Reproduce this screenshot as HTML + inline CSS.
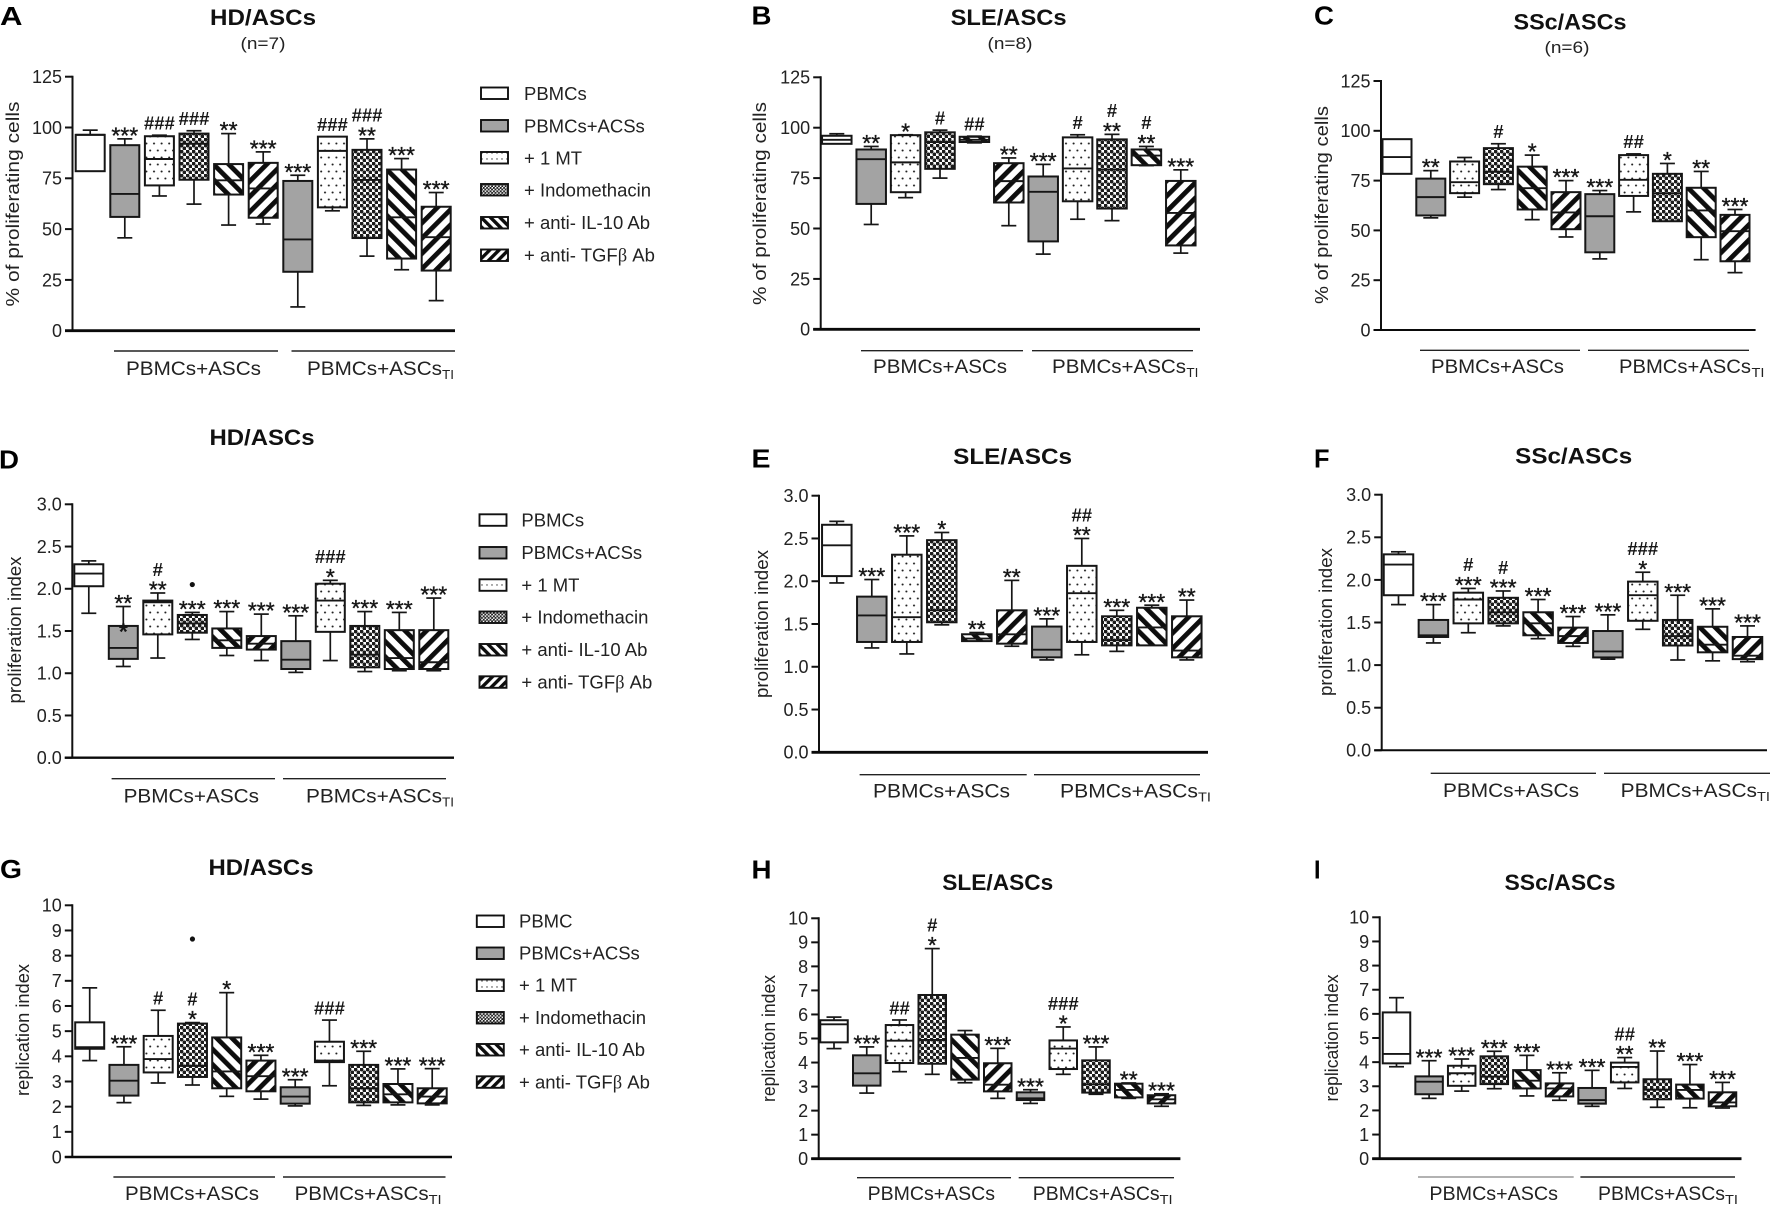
<!DOCTYPE html>
<html lang="en">
<head>
<meta charset="utf-8">
<title>Proliferation of PBMCs with ASCs</title>
<style>
html,body{margin:0;padding:0;background:#fff;}
svg{display:block;}
text{font-family:"Liberation Sans",Arial,sans-serif;fill:#161616;}
.letter{font-size:25.5px;font-weight:bold;fill:#000;}
.title{font-size:22px;font-weight:bold;text-anchor:middle;fill:#111;}
.n{font-size:17px;text-anchor:middle;fill:#222;}
.ytitle{font-size:18px;text-anchor:middle;fill:#222;}
.tick{font-size:18px;text-anchor:end;fill:#222;}
.group{font-size:19px;fill:#222;}
.sub{font-size:13px;fill:#222;}
.legend{font-size:18.5px;fill:#222;}
.legend tspan{font-family:"Liberation Serif",serif;}
.bracket{stroke:#222;stroke-width:1.4;}
.swatch{stroke:#111;stroke-width:1.9;}
</style>
</head>
<body>
<svg id="figure" xmlns="http://www.w3.org/2000/svg" width="1772" height="1208" viewBox="0 0 1772 1208">
<defs>
<pattern id="p-dots" patternUnits="userSpaceOnUse" width="7.6" height="14">
<rect width="7.6" height="14" fill="#fff"/>
<circle cx="2" cy="3.5" r="1.05" fill="#222"/>
<circle cx="5.8" cy="10.5" r="1.05" fill="#222"/>
</pattern>
<pattern id="p-check" patternUnits="userSpaceOnUse" width="6" height="6">
<rect width="6" height="6" fill="#fff"/>
<circle cx="1.5" cy="1.5" r="1.95" fill="#1c1c1c"/>
<circle cx="4.5" cy="4.5" r="1.95" fill="#1c1c1c"/>
</pattern>
<pattern id="p-back" patternUnits="userSpaceOnUse" width="10.8" height="10.8" patternTransform="rotate(-45)">
<rect width="10.8" height="10.8" fill="#fff"/>
<rect width="4.8" height="10.8" fill="#0d0d0d"/>
</pattern>
<pattern id="p-fwd" patternUnits="userSpaceOnUse" width="10.8" height="10.8" patternTransform="rotate(45)">
<rect width="10.8" height="10.8" fill="#fff"/>
<rect width="4.8" height="10.8" fill="#0d0d0d"/>
</pattern>
<pattern id="s-dots" patternUnits="userSpaceOnUse" width="5" height="6">
<rect width="5" height="6" fill="#fff"/>
<circle cx="2" cy="3" r="0.7" fill="#333"/>
</pattern>
<pattern id="s-check" patternUnits="userSpaceOnUse" width="3.4" height="3.4">
<rect width="3.4" height="3.4" fill="#fff"/>
<circle cx="0.85" cy="0.85" r="1.1" fill="#222"/>
<circle cx="2.55" cy="2.55" r="1.1" fill="#222"/>
</pattern>
<pattern id="s-back" patternUnits="userSpaceOnUse" width="6.6" height="6.6" patternTransform="rotate(-45)">
<rect width="6.6" height="6.6" fill="#fff"/>
<rect width="3.4" height="6.6" fill="#0d0d0d"/>
</pattern>
<pattern id="s-fwd" patternUnits="userSpaceOnUse" width="6.6" height="6.6" patternTransform="rotate(45)">
<rect width="6.6" height="6.6" fill="#fff"/>
<rect width="3.4" height="6.6" fill="#0d0d0d"/>
</pattern>
</defs>
<rect width="1772" height="1208" fill="#fff"/>

<!-- Panel A -->
<g>
<text class="letter" x="0" y="25" textLength="22.5" lengthAdjust="spacingAndGlyphs">A</text>
<text class="title" x="263" y="25" textLength="106" lengthAdjust="spacingAndGlyphs">HD/ASCs</text>
<text class="n" x="263" y="49" textLength="45" lengthAdjust="spacingAndGlyphs">(n=7)</text>
<text class="ytitle" transform="translate(19,204) rotate(-90)" textLength="205" lengthAdjust="spacingAndGlyphs">% of proliferating cells</text>
<line class="bracket" x1="114" y1="351" x2="278" y2="351"/>
<line class="bracket" x1="291.5" y1="351" x2="455" y2="351"/>
<text class="group" x="126" y="375" textLength="135" lengthAdjust="spacingAndGlyphs">PBMCs+ASCs</text>
<text class="group" x="307" y="375" textLength="135" lengthAdjust="spacingAndGlyphs">PBMCs+ASCs</text>
<text class="sub" x="442" y="379" textLength="12" lengthAdjust="spacingAndGlyphs">TI</text>
<g id="plot-a"></g>
</g>

<!-- Legend A -->
<g>
<g><rect class="swatch" x="481" y="87.5" width="27" height="11.5" fill="#fff"/><text class="legend" x="524" y="100">PBMCs</text></g>
<g><rect class="swatch" x="481" y="120" width="27" height="11.5" fill="#a3a3a3"/><text class="legend" x="524" y="132.3">PBMCs+ACSs</text></g>
<g><rect class="swatch" x="481" y="152" width="27" height="11.5" fill="url(#s-dots)"/><text class="legend" x="524" y="164.3">+ 1 MT</text></g>
<g><rect class="swatch" x="481" y="184" width="27" height="11.5" fill="url(#s-check)"/><text class="legend" x="524" y="196.3">+ Indomethacin</text></g>
<g><rect class="swatch" x="481" y="217" width="27" height="11.5" fill="url(#s-back)"/><text class="legend" x="524" y="229">+ anti- IL-10 Ab</text></g>
<g><rect class="swatch" x="481" y="249.5" width="27" height="11.5" fill="url(#s-fwd)"/><text class="legend" x="524" y="261.5">+ anti- TGF<tspan>β</tspan> Ab</text></g>
</g>

<!-- Panel B -->
<g>
<text class="letter" x="751.5" y="24.5" textLength="20" lengthAdjust="spacingAndGlyphs">B</text>
<text class="title" x="1008.6" y="25" textLength="116" lengthAdjust="spacingAndGlyphs">SLE/ASCs</text>
<text class="n" x="1010" y="49" textLength="45" lengthAdjust="spacingAndGlyphs">(n=8)</text>
<text class="ytitle" transform="translate(766,203.5) rotate(-90)" textLength="203" lengthAdjust="spacingAndGlyphs">% of proliferating cells</text>
<line class="bracket" x1="861" y1="350.7" x2="1023" y2="350.7"/>
<line class="bracket" x1="1032" y1="350.7" x2="1193" y2="350.7"/>
<text class="group" x="873" y="373" textLength="134" lengthAdjust="spacingAndGlyphs">PBMCs+ASCs</text>
<text class="group" x="1052" y="373" textLength="134" lengthAdjust="spacingAndGlyphs">PBMCs+ASCs</text>
<text class="sub" x="1186.4" y="377" textLength="12" lengthAdjust="spacingAndGlyphs">TI</text>
<g id="plot-b"></g>
</g>

<!-- Panel C -->
<g>
<text class="letter" x="1314" y="24.5" textLength="20" lengthAdjust="spacingAndGlyphs">C</text>
<text class="title" x="1570" y="29.5" textLength="113" lengthAdjust="spacingAndGlyphs">SSc/ASCs</text>
<text class="n" x="1567" y="53" textLength="45" lengthAdjust="spacingAndGlyphs">(n=6)</text>
<text class="ytitle" transform="translate(1328,205) rotate(-90)" textLength="198" lengthAdjust="spacingAndGlyphs">% of proliferating cells</text>
<line class="bracket" x1="1420" y1="350.3" x2="1580" y2="350.3"/>
<line class="bracket" x1="1588" y1="350.3" x2="1749" y2="350.3"/>
<text class="group" x="1431" y="373" textLength="133" lengthAdjust="spacingAndGlyphs">PBMCs+ASCs</text>
<text class="group" x="1619" y="373" textLength="132" lengthAdjust="spacingAndGlyphs">PBMCs+ASCs</text>
<text class="sub" x="1751.5" y="377" textLength="13" lengthAdjust="spacingAndGlyphs">TI</text>
<g id="plot-c"></g>
</g>

<!-- Panel D -->
<g>
<text class="letter" x="-1" y="468.5" textLength="20" lengthAdjust="spacingAndGlyphs">D</text>
<text class="title" x="262" y="445" textLength="105" lengthAdjust="spacingAndGlyphs">HD/ASCs</text>
<text class="ytitle" transform="translate(21,630) rotate(-90)" textLength="147" lengthAdjust="spacingAndGlyphs">proliferation index</text>
<line class="bracket" x1="111.6" y1="778.7" x2="275" y2="778.7"/>
<line class="bracket" x1="283" y1="778.7" x2="446" y2="778.7"/>
<text class="group" x="123.6" y="802.7" textLength="135.4" lengthAdjust="spacingAndGlyphs">PBMCs+ASCs</text>
<text class="group" x="306" y="802.7" textLength="136" lengthAdjust="spacingAndGlyphs">PBMCs+ASCs</text>
<text class="sub" x="442" y="806.7" textLength="12" lengthAdjust="spacingAndGlyphs">TI</text>
<g id="plot-d"></g>
</g>

<!-- Legend D -->
<g>
<g><rect class="swatch" x="479.5" y="514.3" width="27" height="11.5" fill="#fff"/><text class="legend" x="521.4" y="526.3">PBMCs</text></g>
<g><rect class="swatch" x="479.5" y="547" width="27" height="11.5" fill="#a3a3a3"/><text class="legend" x="521.4" y="559">PBMCs+ACSs</text></g>
<g><rect class="swatch" x="479.5" y="579.3" width="27" height="11.5" fill="url(#s-dots)"/><text class="legend" x="521.4" y="591.3">+ 1 MT</text></g>
<g><rect class="swatch" x="479.5" y="611.5" width="27" height="11.5" fill="url(#s-check)"/><text class="legend" x="521.4" y="623.5">+ Indomethacin</text></g>
<g><rect class="swatch" x="479.5" y="644" width="27" height="11.5" fill="url(#s-back)"/><text class="legend" x="521.4" y="656">+ anti- IL-10 Ab</text></g>
<g><rect class="swatch" x="479.5" y="676.3" width="27" height="11.5" fill="url(#s-fwd)"/><text class="legend" x="521.4" y="688.3">+ anti- TGF<tspan>β</tspan> Ab</text></g>
</g>

<!-- Panel E -->
<g>
<text class="letter" x="751.5" y="467.5" textLength="19" lengthAdjust="spacingAndGlyphs">E</text>
<text class="title" x="1012.6" y="464" textLength="119" lengthAdjust="spacingAndGlyphs">SLE/ASCs</text>
<text class="ytitle" transform="translate(768,624) rotate(-90)" textLength="148" lengthAdjust="spacingAndGlyphs">proliferation index</text>
<line class="bracket" x1="859.6" y1="774.7" x2="1026.7" y2="774.7"/>
<line class="bracket" x1="1034" y1="774.7" x2="1200" y2="774.7"/>
<text class="group" x="873" y="797.7" textLength="137" lengthAdjust="spacingAndGlyphs">PBMCs+ASCs</text>
<text class="group" x="1060" y="797.7" textLength="138" lengthAdjust="spacingAndGlyphs">PBMCs+ASCs</text>
<text class="sub" x="1198" y="801.7" textLength="13" lengthAdjust="spacingAndGlyphs">TI</text>
<g id="plot-e"></g>
</g>

<!-- Panel F -->
<g>
<text class="letter" x="1314" y="467.5" textLength="15.5" lengthAdjust="spacingAndGlyphs">F</text>
<text class="title" x="1573.7" y="463.3" textLength="117" lengthAdjust="spacingAndGlyphs">SSc/ASCs</text>
<text class="ytitle" transform="translate(1332,622) rotate(-90)" textLength="148" lengthAdjust="spacingAndGlyphs">proliferation index</text>
<line class="bracket" x1="1430.7" y1="773.3" x2="1596" y2="773.3"/>
<line class="bracket" x1="1604" y1="773.3" x2="1770" y2="773.3"/>
<text class="group" x="1443" y="797" textLength="136" lengthAdjust="spacingAndGlyphs">PBMCs+ASCs</text>
<text class="group" x="1620.7" y="797" textLength="136.3" lengthAdjust="spacingAndGlyphs">PBMCs+ASCs</text>
<text class="sub" x="1757" y="801" textLength="13" lengthAdjust="spacingAndGlyphs">TI</text>
<g id="plot-f"></g>
</g>

<!-- Panel G -->
<g>
<text class="letter" x="0" y="878" textLength="22" lengthAdjust="spacingAndGlyphs">G</text>
<text class="title" x="261" y="875" textLength="105" lengthAdjust="spacingAndGlyphs">HD/ASCs</text>
<text class="ytitle" transform="translate(29,1030) rotate(-90)" textLength="132" lengthAdjust="spacingAndGlyphs">replication index</text>
<line class="bracket" x1="113.4" y1="1177" x2="275" y2="1177"/>
<line class="bracket" x1="283" y1="1177" x2="445.5" y2="1177"/>
<text class="group" x="125" y="1200" textLength="134" lengthAdjust="spacingAndGlyphs">PBMCs+ASCs</text>
<text class="group" x="294.6" y="1200" textLength="134" lengthAdjust="spacingAndGlyphs">PBMCs+ASCs</text>
<text class="sub" x="428.6" y="1204" textLength="13" lengthAdjust="spacingAndGlyphs">TI</text>
<g id="plot-g"></g>
</g>

<!-- Legend G -->
<g>
<g><rect class="swatch" x="476.8" y="915.5" width="27" height="11.5" fill="#fff"/><text class="legend" x="519" y="927.5">PBMC</text></g>
<g><rect class="swatch" x="476.8" y="947.5" width="27" height="11.5" fill="#a3a3a3"/><text class="legend" x="519" y="959.5">PBMCs+ACSs</text></g>
<g><rect class="swatch" x="476.8" y="979.5" width="27" height="11.5" fill="url(#s-dots)"/><text class="legend" x="519" y="991.5">+ 1 MT</text></g>
<g><rect class="swatch" x="476.8" y="1012" width="27" height="11.5" fill="url(#s-check)"/><text class="legend" x="519" y="1024">+ Indomethacin</text></g>
<g><rect class="swatch" x="476.8" y="1044" width="27" height="11.5" fill="url(#s-back)"/><text class="legend" x="519" y="1056">+ anti- IL-10 Ab</text></g>
<g><rect class="swatch" x="476.8" y="1076.3" width="27" height="11.5" fill="url(#s-fwd)"/><text class="legend" x="519" y="1088.3">+ anti- TGF<tspan>β</tspan> Ab</text></g>
</g>

<!-- Panel H -->
<g>
<text class="letter" x="751.5" y="878.5" textLength="20" lengthAdjust="spacingAndGlyphs">H</text>
<text class="title" x="997.8" y="890" textLength="111" lengthAdjust="spacingAndGlyphs">SLE/ASCs</text>
<text class="ytitle" transform="translate(775,1038.5) rotate(-90)" textLength="127" lengthAdjust="spacingAndGlyphs">replication index</text>
<line class="bracket" x1="857" y1="1177.7" x2="1011" y2="1177.7"/>
<line class="bracket" x1="1018.7" y1="1177.7" x2="1174" y2="1177.7"/>
<text class="group" x="867.6" y="1200" textLength="127.4" lengthAdjust="spacingAndGlyphs">PBMCs+ASCs</text>
<text class="group" x="1032.8" y="1200" textLength="126.8" lengthAdjust="spacingAndGlyphs">PBMCs+ASCs</text>
<text class="sub" x="1159.6" y="1204" textLength="13" lengthAdjust="spacingAndGlyphs">TI</text>
<g id="plot-h"></g>
</g>

<!-- Panel I -->
<g>
<text class="letter" x="1314" y="878.5" textLength="6.5" lengthAdjust="spacingAndGlyphs">I</text>
<text class="title" x="1560" y="890" textLength="111" lengthAdjust="spacingAndGlyphs">SSc/ASCs</text>
<text class="ytitle" transform="translate(1338,1038) rotate(-90)" textLength="127" lengthAdjust="spacingAndGlyphs">replication index</text>
<line class="bracket" x1="1418" y1="1177" x2="1573.7" y2="1177" style="stroke:#999"/>
<line class="bracket" x1="1580.4" y1="1177" x2="1735" y2="1177"/>
<text class="group" x="1429.4" y="1200" textLength="128.6" lengthAdjust="spacingAndGlyphs">PBMCs+ASCs</text>
<text class="group" x="1598" y="1200" textLength="127" lengthAdjust="spacingAndGlyphs">PBMCs+ASCs</text>
<text class="sub" x="1725" y="1204" textLength="13" lengthAdjust="spacingAndGlyphs">TI</text>
<g id="plot-i"></g>
</g>
</svg>

<script>
// Shared categories and tick labels
const categories = ["PBMCs","PBMCs+ASCs","+ 1 MT","+ Indomethacin","+ anti- IL-10 Ab","+ anti- TGFb Ab","PBMCs+ASCs TI","+ 1 MT TI","+ Indomethacin TI","+ anti- IL-10 Ab TI","+ anti- TGFb Ab TI"];
const percentTicks = ["0","25","50","75","100","125"];
const indexTicks = ["0.0","0.5","1.0","1.5","2.0","2.5","3.0"];
const replicationTicks = ["0","1","2","3","4","5","6","7","8","9","10"];

// Panel A: % of proliferating cells, HD/ASCs
const aHigh = [98.7,94.4,96.2,98.4,97,88,76.5,95.5,94.4,84.7,68];
const aQ3   = [96.4,91.3,95.7,97,82,82.6,73.7,95.5,89,79.3,61];
const aMed  = [96.4,67.3,84.5,92,74,70,44.9,88.5,74.2,55.8,46];
const aQ1   = [78.5,56,71.5,74.3,67,55.6,29,60.7,45.6,35.5,29.6];
const aLow  = [78.5,45.7,66.3,62.3,52,52.5,11.7,59,36.7,30,14.8];
const aSig  = ["","***","###","###","**","***","***","###","###/**","***","***"];

// Panel B: % of proliferating cells, SLE/ASCs
const bHigh = [97,90.7,96.5,98.8,95.8,85,81.8,96.5,96.7,90.7,79.1];
const bQ3   = [96,89.2,96.3,97.7,95.5,82.4,75.8,95.2,94.2,89.2,73.6];
const bMed  = [94,84.4,82.8,92.9,94,73.5,68.2,79.8,79.3,86.2,57.7];
const bQ1   = [92,62.2,68,79.6,92.9,62.9,43.6,63.5,59.9,81.4,41.6];
const bLow  = [92,52,65.3,75,92.5,51.4,37.3,54.6,53.9,81.2,37.8];
const bSig  = ["","**","*","#","##","**","***","#","#/**","#/**","***"];

// Panel C: % of proliferating cells, SSc/ASCs
const cHigh = [95.8,80,86.6,93.5,87.8,75,70,88.4,83.6,79.6,60.5];
const cQ3   = [95.8,76,84.6,91.3,82,69.2,68.2,87.8,78.4,71.4,57.8];
const cMed  = [86.8,66.7,74.2,79.4,71.2,59,57.1,75.4,68.7,60,49.6];
const cQ1   = [78.4,57.5,68.7,73.2,60.5,50.6,39,67.3,54.6,46.6,34.5];
const cLow  = [78.4,56.3,66.7,70.5,55.4,46.7,35.7,59.3,54.6,35.3,28.8];
const cSig  = ["","**","","#","*","***","***","##","*","**","***"];

// Panel D: proliferation index, HD/ASCs
const dHigh = [2.33,1.79,1.95,1.72,1.73,1.70,1.68,2.10,1.73,1.72,1.89];
const dQ3   = [2.29,1.56,1.86,1.69,1.53,1.44,1.38,2.06,1.56,1.51,1.51];
const dMed  = [2.18,1.30,1.84,1.59,1.39,1.35,1.16,1.86,1.22,1.18,1.13];
const dQ1   = [2.03,1.17,1.46,1.48,1.30,1.28,1.05,1.49,1.07,1.05,1.05];
const dLow  = [1.71,1.08,1.18,1.40,1.21,1.15,1.01,1.15,1.02,1.03,1.03];
const dSig  = ["","**","#/**","***","***","***","***","###/*","***","***","***"];
const dOutlierBox = [3];
const dOutlierVal = [2.05];
const dStarBox = [1];
const dStarVal = [1.54];

// Panel E: proliferation index, SLE/ASCs
const eHigh = [2.70,2.02,2.53,2.57,1.40,2.01,1.56,2.50,1.66,1.72,1.78];
const eQ3   = [2.66,1.82,2.31,2.48,1.38,1.66,1.47,2.18,1.59,1.69,1.59];
const eMed  = [2.42,1.60,1.58,1.66,1.33,1.38,1.20,1.86,1.31,1.46,1.19];
const eQ1   = [2.06,1.29,1.29,1.52,1.30,1.27,1.11,1.29,1.25,1.25,1.11];
const eLow  = [1.98,1.22,1.15,1.49,1.30,1.24,1.08,1.14,1.18,1.25,1.08];
const eSig  = ["","***","***","*","**","**","***","##/**","***","***","**"];

// Panel F: proliferation index, SSc/ASCs
const fHigh = [2.33,1.71,1.90,1.87,1.77,1.57,1.59,2.09,1.82,1.66,1.46];
const fQ3   = [2.30,1.53,1.85,1.79,1.62,1.44,1.40,1.98,1.53,1.45,1.33];
const fMed  = [2.18,1.35,1.77,1.62,1.49,1.34,1.16,1.82,1.34,1.24,1.11];
const fQ1   = [1.82,1.33,1.49,1.49,1.35,1.26,1.09,1.52,1.23,1.15,1.07];
const fLow  = [1.71,1.26,1.38,1.46,1.31,1.22,1.07,1.42,1.06,1.05,1.04];
const fSig  = ["","***","#/***","#/***","***","***","***","###/*","***","***","***"];

// Panel G: replication index, HD/ASCs
const gHigh = [6.72,4.38,5.83,5.34,6.53,4.04,3.07,5.44,4.20,3.50,3.51];
const gQ3   = [5.35,3.66,4.81,5.30,4.75,3.83,2.77,4.58,3.66,2.90,2.73];
const gMed  = [4.36,3.03,3.89,3.62,3.40,3.21,2.40,3.83,2.73,2.49,2.40];
const gQ1   = [4.30,2.44,3.36,3.18,2.73,2.61,2.12,3.77,2.17,2.17,2.13];
const gLow  = [3.83,2.16,2.94,2.86,2.41,2.30,2.03,2.83,2.05,2.07,2.07];
const gSig  = ["","***","#","#/*","*","***","***","###","***","***","***"];
const gOutlierBox = [3];
const gOutlierVal = [8.66];

// Panel H: replication index, SLE/ASCs
const hHigh = [5.89,4.65,5.77,8.74,5.33,4.59,2.87,5.48,4.65,3.15,2.70];
const hQ3   = [5.76,4.30,5.56,6.81,5.16,3.97,2.76,4.92,4.09,3.12,2.64];
const hMed  = [5.59,3.55,4.91,4.94,4.19,3.08,2.51,4.58,3.09,2.86,2.47];
const hQ1   = [4.84,3.04,3.98,3.95,3.29,2.80,2.44,3.73,2.75,2.55,2.30];
const hLow  = [4.58,2.73,3.62,3.51,3.16,2.51,2.30,3.51,2.68,2.51,2.18];
const hSig  = ["","***","##","#/*","","***","***","###/*","***","**","***"];

// Panel I: replication index, SSc/ASCs
const iHigh = [6.67,4.06,4.13,4.45,4.28,3.56,3.66,4.19,4.46,3.90,3.16];
const iQ3   = [6.06,3.41,3.85,4.24,3.67,3.12,2.93,3.98,3.29,3.07,2.75];
const iMed  = [4.34,3.19,3.54,3.40,3.23,2.91,2.43,3.80,2.86,2.85,2.33];
const iQ1   = [3.95,2.67,3.02,3.09,2.91,2.58,2.28,3.16,2.46,2.49,2.17];
const iLow  = [3.81,2.50,2.80,2.90,2.60,2.42,2.17,2.91,2.13,2.11,2.10];
const iSig  = ["","***","***","***","***","***","***","##/**","**","***","***"];

const NS = "http://www.w3.org/2000/svg";
const FILLS = ["#ffffff","#a3a3a3","url(#p-dots)","url(#p-check)","url(#p-back)","url(#p-fwd)","#a3a3a3","url(#p-dots)","url(#p-check)","url(#p-back)","url(#p-fwd)"];

function make(parent, tag, attrs, txt) {
  const el = document.createElementNS(NS, tag);
  for (const k in attrs) el.setAttribute(k, attrs[k]);
  if (txt !== undefined) el.textContent = txt;
  parent.appendChild(el);
  return el;
}

function drawPanel(cfg) {
  const root = document.getElementById(cfg.id);
  const yMax = Number(cfg.ticks[cfg.ticks.length - 1]);
  const yScale = v => cfg.y0 - v * (cfg.y0 - cfg.yTop) / yMax;
  const xScale = i => cfg.first + i * cfg.step;
  const half = cfg.width / 2;

  // y axis ticks and labels
  cfg.ticks.forEach(t => {
    const y = yScale(Number(t));
    const tick = make(root, "line", {x1: cfg.axisX - 7.5, x2: cfg.axisX, y1: y, y2: y, stroke: "#111", "stroke-width": 2});
    
    
    const lab = make(root, "text", {class: "tick", x: cfg.axisX - 10.5, y: y + 6.4}, t);
    
    
  });

  // boxes
  cfg.q1.forEach((_, i) => {
    const cx = xScale(i);
    const g = make(root, "g", {});
    
    
    const yHi = yScale(cfg.high[i]), yLo = yScale(cfg.low[i]);
    const yQ3 = yScale(cfg.q3[i]), yQ1 = yScale(cfg.q1[i]), yM = yScale(cfg.med[i]);
    const wAttr = {stroke: "#161616", "stroke-width": 1.7};
    if (cfg.high[i] > cfg.q3[i]) {
      make(g, "line", Object.assign({x1: cx, x2: cx, y1: yHi, y2: yQ3}, wAttr));
      make(g, "line", Object.assign({x1: cx - 7.5, x2: cx + 7.5, y1: yHi, y2: yHi}, wAttr));
    }
    if (cfg.low[i] < cfg.q1[i]) {
      make(g, "line", Object.assign({x1: cx, x2: cx, y1: yQ1, y2: yLo}, wAttr));
      make(g, "line", Object.assign({x1: cx - 7.5, x2: cx + 7.5, y1: yLo, y2: yLo}, wAttr));
    }
    make(g, "rect", {x: cx - half, y: yQ3, width: cfg.width, height: yQ1 - yQ3, fill: FILLS[i], stroke: "#161616", "stroke-width": 2});
    make(g, "line", {x1: cx - half, x2: cx + half, y1: yM, y2: yM, stroke: "#161616", "stroke-width": 1.9});

    // significance annotations, stacked upward from the whisker
    const rows = cfg.sig[i] ? cfg.sig[i].split("/").reverse() : [];
    let c = yHi;
    rows.forEach((r, k) => {
      const isHash = r.charAt(0) === "#";
      c -= k === 0 ? (isHash ? 12.3 : 8.8) : 15;
      const attrs = isHash
        ? {x: cx, y: c + 6.6, "text-anchor": "middle", "font-size": 18.5, "font-weight": "bold"}
        : {x: cx, y: c + 13.4, "text-anchor": "middle", "font-size": 23, stroke: "#161616", "stroke-width": 0.35};
      const t = make(root, "text", attrs, r);
      
      
    });
  });

  // outlier dots and star markers
  (cfg.outlierBox || []).forEach((b, k) => {
    const o = make(root, "circle", {cx: xScale(b), cy: yScale(cfg.outlierVal[k]), r: 2.6, fill: "#111"});
    
    
  });
  (cfg.starBox || []).forEach((b, k) => {
    const s = make(root, "text", {x: xScale(b), y: yScale(cfg.starVal[k]) + 12, "text-anchor": "middle", "font-size": 23, "font-weight": "bold", fill: "#111"}, "*");
    
    
  });

  // axes on top
  const ya = make(root, "line", {x1: cfg.axisX, x2: cfg.axisX, y1: cfg.yTop - 1, y2: cfg.y0, stroke: "#111", "stroke-width": 2});
  
  
  const xa = make(root, "line", {x1: cfg.axisX - 7.5, x2: cfg.axisEnd, y1: cfg.y0, y2: cfg.y0, stroke: "#0a0a0a", "stroke-width": cfg.xw});
  
  
}

[
 {id:"plot-a",ticks:percentTicks,high:aHigh,q3:aQ3,med:aMed,q1:aQ1,low:aLow,sig:aSig,axisX:72.5,axisEnd:455,y0:330.7,yTop:76.7,first:90.2,step:34.6,width:29,xw:2.8},
 {id:"plot-b",ticks:percentTicks,high:bHigh,q3:bQ3,med:bMed,q1:bQ1,low:bLow,sig:bSig,axisX:820.7,axisEnd:1200,y0:329.3,yTop:77.3,first:836.8,step:34.4,width:29.5,xw:2.8},
 {id:"plot-c",ticks:percentTicks,high:cHigh,q3:cQ3,med:cMed,q1:cQ1,low:cLow,sig:cSig,axisX:1381,axisEnd:1755.6,y0:330,yTop:81,first:1397,step:33.8,width:29,xw:2},
 {id:"plot-d",ticks:indexTicks,high:dHigh,q3:dQ3,med:dMed,q1:dQ1,low:dLow,sig:dSig,outlierBox:dOutlierBox,outlierVal:dOutlierVal,starBox:dStarBox,starVal:dStarVal,axisX:72.3,axisEnd:454,y0:757.7,yTop:504.3,first:88.8,step:34.5,width:29,xw:2.4},
 {id:"plot-e",ticks:indexTicks,high:eHigh,q3:eQ3,med:eMed,q1:eQ1,low:eLow,sig:eSig,axisX:819,axisEnd:1208,y0:752.3,yTop:495.7,first:836.8,step:35,width:29.5,xw:2.8},
 {id:"plot-f",ticks:indexTicks,high:fHigh,q3:fQ3,med:fMed,q1:fQ1,low:fLow,sig:fSig,axisX:1381.7,axisEnd:1767,y0:750.3,yTop:494.7,first:1398.5,step:34.9,width:29.5,xw:2},
 {id:"plot-g",ticks:replicationTicks,high:gHigh,q3:gQ3,med:gMed,q1:gQ1,low:gLow,sig:gSig,outlierBox:gOutlierBox,outlierVal:gOutlierVal,axisX:72.3,axisEnd:452,y0:1157,yTop:905.3,first:89.7,step:34.25,width:29,xw:2.6},
 {id:"plot-h",ticks:replicationTicks,high:hHigh,q3:hQ3,med:hMed,q1:hQ1,low:hLow,sig:hSig,axisX:818.7,axisEnd:1180.4,y0:1158.7,yTop:918.3,first:834,step:32.75,width:27.5,xw:2.8},
 {id:"plot-i",ticks:replicationTicks,high:iHigh,q3:iQ3,med:iMed,q1:iQ1,low:iLow,sig:iSig,axisX:1379.7,axisEnd:1741.5,y0:1158.7,yTop:917.3,first:1396.5,step:32.6,width:27.5,xw:2.8}
].forEach(drawPanel);
</script>
</body>
</html>
